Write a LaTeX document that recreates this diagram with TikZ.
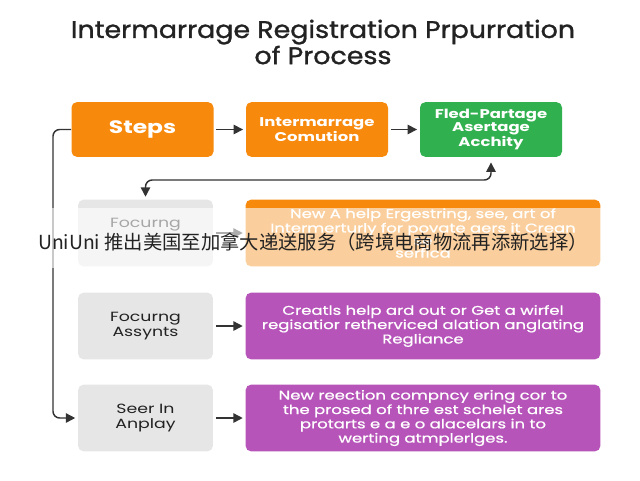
\documentclass[tikz,border=0pt]{standalone}
\usepackage{fontspec}
\setmainfont{Poppins}
\newfontfamily\headfont{Poppins}[FakeStretch=1.12,FakeBold=1.2]
\newfontfamily\boxfont{Poppins}[FakeStretch=1.3]
\newfontfamily\midfont{Poppins}[FakeStretch=1.3,FakeBold=0.8]
\newfontfamily\cjk{Noto Sans CJK SC}
\usetikzlibrary{positioning,arrows.meta}
\definecolor{ink}{HTML}{222222}
\definecolor{wire}{HTML}{333333}
\definecolor{amber}{HTML}{F7890C}
\definecolor{leaf}{HTML}{30B04F}
\definecolor{plum}{HTML}{B654B9}
\definecolor{pale}{HTML}{E6E6E6}

\begin{document}
\begin{tikzpicture}[x=0.75pt,y=-0.75pt,
  box/.style={rounded corners=4pt,inner sep=3pt,align=center,text=white},
  topbox/.style={box,minimum width=106.5pt,minimum height=41pt,font=\boxfont\bfseries\fontsize{9.5}{10}\selectfont},
  sidebox/.style={box,fill=pale,text=ink,minimum width=101pt,minimum height=50pt,font=\boxfont\fontsize{10}{11.3}\selectfont},
  widebox/.style={box,minimum width=266pt,minimum height=50pt,font=\midfont\fontsize{9.5}{9.4}\selectfont},
  flow/.style={wire,line width=1.1pt,>={Triangle[length=7pt,width=7pt]},shorten <=2pt,shorten >=2pt}]
  \useasboundingbox (0,0) rectangle (640,480);
  \fill[white] (0,0) rectangle (640,480);
  \node[text=ink,font=\headfont\fontsize{18}{17.3}\selectfont,align=center] (title) at (323,42) {Intermarrage Registration Prpurration\\of Process};
  % top row
  \node[topbox,fill=amber,font=\boxfont\bfseries\fontsize{13.5}{15}\selectfont] (steps) at (142.5,129.5) {Steps};
  \node[topbox,fill=amber] (comu) at (317,129.5) {Intermarrage\\Comution};
  \node[topbox,fill=leaf] (fled) at (491,129.5) {Fled-Partage\\Asertage\\Acchity};
  % rows below
  \node[sidebox] (foc) at (145.5,233) {Focurng\\\strut};
  \node[widebox,fill=amber] (help) at (423,233) {New A help Ergestring, see, art of\\Intermerturly for povate aers it Crean\\se\\serfica};
  \node[sidebox] (asy) at (145.5,326) {Focurng\\Assynts};
  \node[widebox,fill=plum] (crea) at (423,326) {Creatls help ard out or Get a wirfel\\regisatior retherviced alation anglating\\Regliance};
  \node[sidebox] (seer) at (145.5,418) {Seer In\\Anplay};
  \node[widebox,fill=plum] (reec) at (423,418) {New reection compncy ering cor to\\the prosed of thre est schelet ares\\protarts e a e o alacelars in to\\werting atmplerlges.};
  \draw[flow,->] (steps) -- (comu);
  \draw[flow,->] (comu) -- (fled);
  \draw[flow,->] (foc) -- (help);
  \draw[flow,->] (asy) -- (crea);
  \draw[flow,->] (seer) -- (reec);
  \coordinate (bend) at (300,180);
  \draw[flow,<->,rounded corners=5pt,shorten >=4pt] (foc.north) |- (bend) -| (fled.south);
  \coordinate (rail) at (53,300);
  \draw[flow,->,rounded corners=5pt,shorten <=0pt] (steps.west) -| (rail) |- (seer.west);
  % caption over the second row
  \fill[white,opacity=0.6] (0,208) rectangle (640,268);
  \node[text=ink,font=\cjk\fontsize{14.5}{16}\selectfont] (cap) at (313,242) {UniUni 推出美国至加拿大递送服务（跨境电商物流再添新选择）};
\end{tikzpicture}
\end{document}
